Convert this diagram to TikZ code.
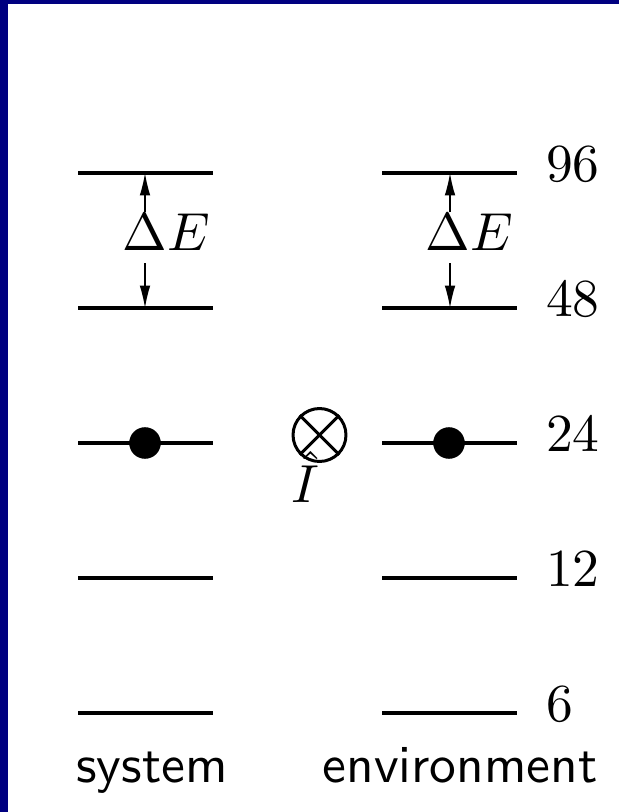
\documentclass[tikz,border=0pt]{standalone}
\usepackage{amsmath, amssymb}
\usepackage{tikz}
\usetikzlibrary{arrows.meta, positioning, calc}
\definecolor{framenavy}{RGB}{0,0,128}

\begin{document}
\begin{tikzpicture}[x=0.1869pt, y=-0.1869pt,
  level/.style={line width=0.75pt},
  gap/.style={line width=0.25pt, -{Latex[length=4.2pt, width=2pt]}},
  lbl/.style={anchor=base west, inner sep=0pt},
  dot/.style={circle, fill, inner sep=0pt, minimum size=5.9pt},
  txt/.style={anchor=base, inner sep=0pt}]
% Frame
\useasboundingbox (0,0) rectangle (619,812);
\fill[white] (0,0) rectangle (619,812);
\fill[framenavy] (0,0) rectangle (8,812);
\fill[framenavy] (0,0) rectangle (619,4);
% Levels (system left, environment right)
\foreach \y/\e in {173/96, 308/48, 443/24, 578/12, 713/6} {
  \draw[level] (78,\y) -- (213,\y);
  \draw[level] (382,\y) -- (517,\y);
  \node[lbl] (e\e) at (545,\y+8) {$\e$};
}
\coordinate (s96) at (145,173);
\coordinate (s48) at (145,308);
\coordinate (r96) at (450,173);
\coordinate (r48) at (450,308);
% Gap Delta E
\node[txt] (sdE) at (166,250) {$\Delta E$};
\node[txt] (rdE) at (469,250) {$\Delta E$};
\draw[gap] (sdE.north -| s96) -- (s96);
\draw[gap] ($(sdE.south -| s48)+(0,12)$) -- (s48);
\draw[gap] (rdE.north -| r96) -- (r96);
\draw[gap] ($(rdE.south -| r48)+(0,12)$) -- (r48);
% Occupied levels
\node[dot] (sdot) at (145,443) {};
\node[dot] (rdot) at (449,443) {};
% Coupling operator
\node[circle, draw, line width=0.56pt, inner sep=0pt, minimum size=9.9pt] (op) at (319.5,435) {};
\draw[line width=0.56pt] (op.north west) -- (op.south east);
\draw[line width=0.56pt] (op.north east) -- (op.south west);
\node[txt] (opl) at (305,502) {$\hat I$};
% Labels
\node[txt, font=\sffamily] (sys) at (152,782) {system};
\node[txt, font=\sffamily] (env) at (460,782) {environment};
\end{tikzpicture}
\end{document}
